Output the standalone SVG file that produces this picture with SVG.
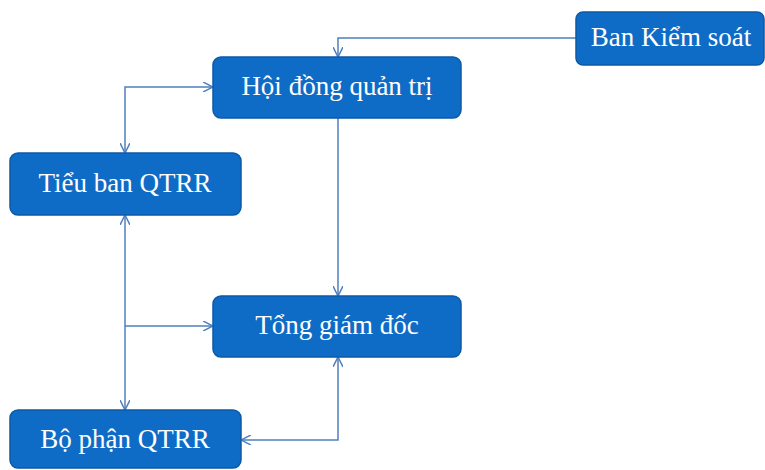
<svg xmlns="http://www.w3.org/2000/svg" width="765" height="470" viewBox="0 0 765 470">
<defs>
<style>
.box{fill:#0f6cc6;stroke:#0b5aa6;stroke-width:1.5}
.lbl{font-family:"Liberation Serif","DejaVu Serif",serif;font-size:27px;fill:#ffffff;text-anchor:middle;dominant-baseline:central}
.ln{fill:none;stroke:#4f7fbf;stroke-width:1.5}
</style>
<marker id="ah" viewBox="0 0 10 10" refX="10" refY="5" markerWidth="10" markerHeight="10" markerUnits="userSpaceOnUse" orient="auto-start-reverse">
<path d="M0,0 L10,5 L0,10" fill="none" stroke="#4f7fbf" stroke-width="1.5"/>
</marker>
</defs>
<rect width="765" height="470" fill="#ffffff"/>
<g id="connectors">
<path class="ln" d="M576,38 H338 V57" marker-end="url(#ah)"/>
<path class="ln" d="M213,87 H125 V153" marker-start="url(#ah)" marker-end="url(#ah)"/>
<path class="ln" d="M338,118 V296" marker-end="url(#ah)"/>
<path class="ln" d="M125,215 V410" marker-start="url(#ah)" marker-end="url(#ah)"/>
<path class="ln" d="M125,326 H213" marker-end="url(#ah)"/>
<path class="ln" d="M338,357 V440 H241" marker-start="url(#ah)" marker-end="url(#ah)"/>
</g>
<g id="ban-kiem-soat">
<rect class="box" x="576" y="12" width="188" height="53" rx="7"/>
<text class="lbl" x="671" y="37">Ban Kiểm soát</text>
</g>
<g id="hoi-dong-quan-tri">
<rect class="box" x="213" y="57" width="248" height="61" rx="8"/>
<text class="lbl" x="337" y="86">Hội đồng quản trị</text>
</g>
<g id="tieu-ban-qtrr">
<rect class="box" x="10" y="153" width="231" height="62" rx="8"/>
<text class="lbl" x="125" y="183">Tiểu ban QTRR</text>
</g>
<g id="tong-giam-doc">
<rect class="box" x="213" y="296" width="248" height="61" rx="8"/>
<text class="lbl" x="337" y="325">Tổng giám đốc</text>
</g>
<g id="bo-phan-qtrr">
<rect class="box" x="10" y="410" width="231" height="58" rx="8"/>
<text class="lbl" x="125" y="439">Bộ phận QTRR</text>
</g>
</svg>
